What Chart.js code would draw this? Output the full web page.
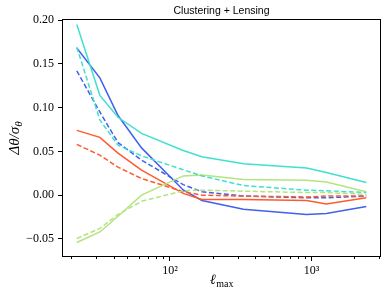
<!DOCTYPE html>
<html>
<head>
<meta charset="utf-8">
<script src="https://cdn.jsdelivr.net/npm/chart.js@4.4.1/dist/chart.umd.min.js"></script>
<style>
  html, body { margin: 0; padding: 0; background: #fff; }
  #wrap { width: 391px; height: 298px; position: relative; }
</style>
</head>
<body>
<div id="wrap"><canvas id="c" width="391" height="298"></canvas></div>
<script>
// ---- data ----
const ellMax = [22, 32, 43, 63, 124, 168, 330, 920, 1270, 2430];

const cyanSolid   = [0.195, 0.114, 0.089, 0.0705, 0.051, 0.044, 0.036, 0.031, 0.026, 0.0145];
const cyanDashed  = [0.169, 0.086, 0.057, 0.045, 0.029, 0.022, 0.011, 0.0057, 0.005, 0.003];
const blueSolid   = [0.168, 0.134, 0.091, 0.054, 0.006, -0.006, -0.016, -0.022, -0.021, -0.013];
const blueDashed  = [0.142, 0.095, 0.060, 0.040, 0.012, 0.004, -0.001, -0.003, -0.003, -0.001];
const redSolid    = [0.074, 0.066, 0.048, 0.0286, 0.002, -0.005, -0.005, -0.006, -0.010, -0.003];
const redDashed   = [0.058, 0.0457, 0.032, 0.019, 0.004, 0.0, -0.001, -0.002, -0.001, -0.001];
const greenSolid  = [-0.054, -0.042, -0.024, 0.0, 0.022, 0.023, 0.018, 0.017, 0.015, 0.004];
const greenDashed = [-0.0495, -0.038, -0.022, -0.007, 0.005, 0.0057, 0.0046, 0.003, 0.003, 0.001];

const yTicks = [-0.05, 0.0, 0.05, 0.10, 0.15, 0.20];
const xMajorTicks = [100, 1000];
const xMinorTicks = [20, 30, 40, 50, 60, 70, 80, 90, 200, 300, 400, 500, 600, 700, 800, 900, 2000, 3000];

const titleText = "Clustering + Lensing";

// ---- styles ----
const C_CYAN = '#40e0d0';
const C_BLUE = '#4060ee';
const C_RED = '#ff5a2e';
const C_GREEN = '#b2e57e';

function pts(arr) { return ellMax.map((l, i) => ({ x: l, y: arr[i] })); }
function ds(arr, color, dashed) {
  return {
    data: pts(arr),
    borderColor: color,
    backgroundColor: color,
    borderWidth: 1.5,
    borderDash: dashed ? [5, 2.5] : [],
    pointRadius: 0,
    tension: 0,
    fill: false
  };
}

const serif = '"Liberation Serif", "DejaVu Serif", serif';
const sans = '"Liberation Sans", Arial, sans-serif';

const decor = {
  id: 'decor',
  afterDraw(chart) {
    const ctx = chart.ctx;
    const a = chart.chartArea;
    const xs = chart.scales.x;
    ctx.save();
    // frame
    ctx.strokeStyle = '#000';
    ctx.lineWidth = 1;
    const L = Math.round(a.left) + 0.5, T = Math.round(a.top) + 0.5;
    const R = Math.round(a.right) - 0.5, B = Math.round(a.bottom) - 0.5;
    ctx.strokeRect(L, T, R - L, B - T);
    // minor x ticks
    ctx.beginPath();
    xMinorTicks.forEach(v => {
      const px = Math.round(xs.getPixelForValue(v)) + 0.5;
      if (px >= a.left && px <= a.right) {
        ctx.moveTo(px, B);
        ctx.lineTo(px, B + 2.5);
      }
    });
    ctx.stroke();
    // title
    ctx.fillStyle = '#000';
    ctx.font = '10.5px ' + sans;
    ctx.textAlign = 'center';
    ctx.textBaseline = 'alphabetic';
    const cx = (a.left + a.right) / 2;
    ctx.fillText(titleText, cx, 14);
    // x label: ℓ_max
    ctx.font = 'italic 14px ' + serif;
    const w1 = ctx.measureText('ℓ').width;
    ctx.font = '10px ' + serif;
    const w2 = ctx.measureText('max').width;
    const x0 = cx - (w1 + w2) / 2;
    ctx.textAlign = 'left';
    ctx.font = 'italic 14px ' + serif;
    ctx.fillText('ℓ', x0, 284);
    ctx.font = '10px ' + serif;
    ctx.fillText('max', x0 + w1 + 0.5, 287);
    // y label: Δθ/σ_θ
    ctx.translate(19, (a.top + a.bottom) / 2);
    ctx.rotate(-Math.PI / 2);
    ctx.font = 'italic 15px ' + serif;
    const m1 = ctx.measureText('Δθ/σ').width;
    ctx.font = 'italic 11px ' + serif;
    const m2 = ctx.measureText('θ').width;
    const y0 = -(m1 + m2) / 2;
    ctx.font = 'italic 15px ' + serif;
    ctx.fillText('Δθ/σ', y0, 0);
    ctx.font = 'italic 11px ' + serif;
    ctx.fillText('θ', y0 + m1, 3);
    ctx.restore();
  }
};

new Chart(document.getElementById('c'), {
  type: 'line',
  data: {
    datasets: [
      ds(cyanSolid, C_CYAN, false),
      ds(cyanDashed, C_CYAN, true),
      ds(greenSolid, C_GREEN, false),
      ds(greenDashed, C_GREEN, true),
      ds(redSolid, C_RED, false),
      ds(redDashed, C_RED, true),
      ds(blueSolid, C_BLUE, false),
      ds(blueDashed, C_BLUE, true)
    ]
  },
  options: {
    responsive: false,
    animation: false,
    devicePixelRatio: 1,
    layout: { padding: { top: 19, right: 10, left: 0, bottom: 0 } },
    plugins: { legend: { display: false }, tooltip: { enabled: false }, title: { display: false } },
    scales: {
      x: {
        type: 'logarithmic',
        min: 17.3,
        max: 3085,
        afterFit(s) { s.height = 41; },
        afterBuildTicks(s) { s.ticks = xMajorTicks.map(v => ({ value: v, major: true })); },
        grid: { drawOnChartArea: false, tickLength: 4, tickColor: '#000', tickWidth: 1 },
        border: { display: false },
        ticks: {
          autoSkip: false, maxRotation: 0, minRotation: 0, padding: 3,
          color: '#000',
          font: { family: serif, size: 12 },
          callback: (v) => v === 100 ? '10²' : (v === 1000 ? '10³' : '')
        }
      },
      y: {
        type: 'linear',
        min: -0.0706,
        max: 0.2012,
        afterFit(s) { s.width = 62; },
        afterBuildTicks(s) { s.ticks = yTicks.map(v => ({ value: v })); },
        grid: { drawOnChartArea: false, tickLength: 4, tickColor: '#000', tickWidth: 1 },
        border: { display: false },
        ticks: {
          padding: 4,
          color: '#000',
          font: { family: serif, size: 12 },
          callback: (v) => (v < 0 ? '−' : '') + Math.abs(v).toFixed(2)
        }
      }
    }
  },
  plugins: [decor]
});
</script>
</body>
</html>
